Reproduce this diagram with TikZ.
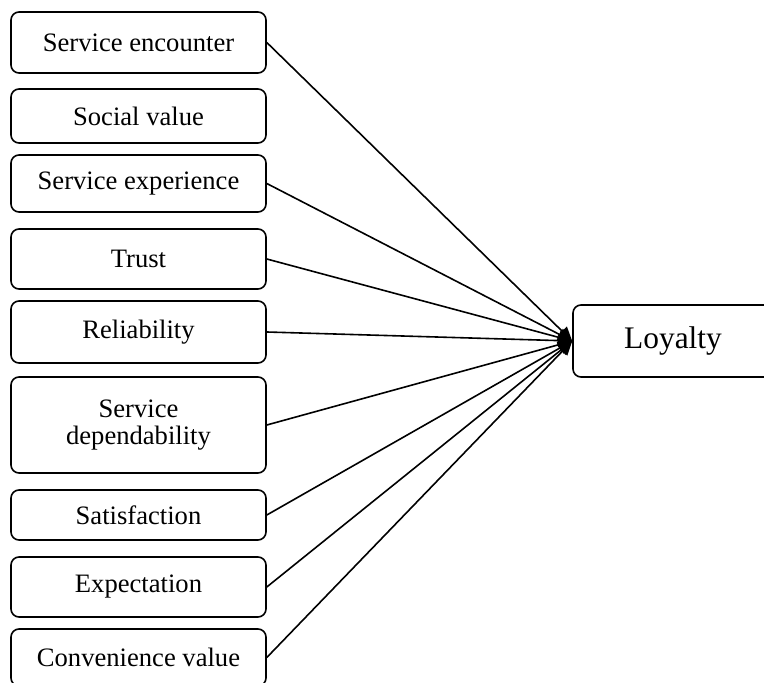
\documentclass[tikz,border=0pt]{standalone}
\usepackage{fontspec}
\setmainfont{Liberation Serif}
\usetikzlibrary{arrows.meta}
\begin{document}
\begin{tikzpicture}[x=0.5pt,y=-0.5pt,
  box/.style={draw, rounded corners=4pt, line width=0.8pt, minimum width=127.5pt,
    align=center, inner sep=0pt, font=\fontsize{13.3}{13.8}\selectfont},
  conn/.style={line width=0.8pt, -{Triangle[length=7pt,width=6.5pt]}}]
\useasboundingbox (0,0) rectangle (764,683);
\node[box, minimum height=30.5pt] (se) at (138.5,42.5) {Service encounter};
\node[box, minimum height=27pt]   (sv) at (138.5,116)  {Social value};
\node[box, minimum height=28.5pt] (sx) at (138.5,183.5) {Service experience};
\node[box, minimum height=30pt]   (tr) at (138.5,259)  {Trust};
\node[box, minimum height=31pt]   (re) at (138.5,332)  {Reliability};
\node[box, minimum height=48pt]   (sd) at (138.5,425)  {Service\\dependability};
\node[box, minimum height=25pt]   (sa) at (138.5,515)  {Satisfaction};
\node[box, minimum height=30pt]   (ex) at (138.5,587)  {Expectation};
\node[box, minimum height=28.5pt] (cv) at (138.5,657.5) {Convenience value};
\node[box, minimum width=100pt, minimum height=36pt, font=\fontsize{15.7}{16}\selectfont] (loy) at (673,341) {Loyalty};
\foreach \n in {se,sx,tr,re,sd,sa,ex,cv}
  \draw[conn] (\n.east) -- (loy.west);
\end{tikzpicture}
\end{document}
